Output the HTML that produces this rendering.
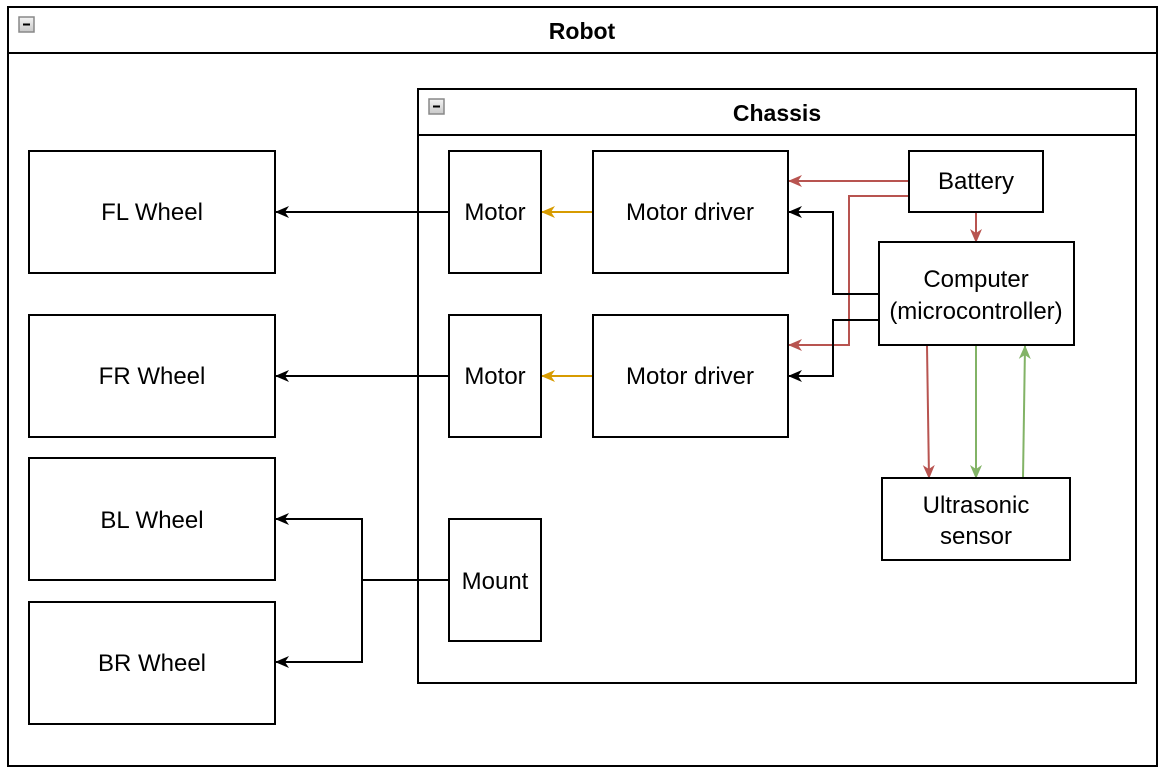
<!DOCTYPE html>
<html><head><meta charset="utf-8"><style>
html,body{margin:0;padding:0;background:#fff;}
svg{display:block;}
text{font-family:"Liberation Sans",sans-serif;font-size:24px;fill:#000;}
</style></head><body>
<svg width="1173" height="783" viewBox="0 0 1173 783" xmlns="http://www.w3.org/2000/svg">
<defs>
<marker id="ak" markerWidth="14" markerHeight="14" refX="13" refY="7" orient="auto" markerUnits="userSpaceOnUse" viewBox="0 0 14 14"><path d="M0,1 L14,7 L0,13 L4,7 Z" fill="#000"/></marker>
<marker id="ar" markerWidth="14" markerHeight="14" refX="13" refY="7" orient="auto" markerUnits="userSpaceOnUse" viewBox="0 0 14 14"><path d="M0,1 L14,7 L0,13 L4,7 Z" fill="#b85450"/></marker>
<marker id="ag" markerWidth="14" markerHeight="14" refX="13" refY="7" orient="auto" markerUnits="userSpaceOnUse" viewBox="0 0 14 14"><path d="M0,1 L14,7 L0,13 L4,7 Z" fill="#82b366"/></marker>
<marker id="ay" markerWidth="14" markerHeight="14" refX="13" refY="7" orient="auto" markerUnits="userSpaceOnUse" viewBox="0 0 14 14"><path d="M0,1 L14,7 L0,13 L4,7 Z" fill="#d79b00"/></marker>
<linearGradient id="bg" x1="0" y1="0" x2="0" y2="1"><stop offset="0" stop-color="#f4f4f4"/><stop offset="1" stop-color="#c8c8c8"/></linearGradient>
</defs>
<g fill="none" stroke="#000" stroke-width="2">
<rect x="8" y="7" width="1149" height="759"/>
<line x1="8" y1="53" x2="1157" y2="53"/>
<rect x="418" y="89" width="718" height="594"/>
<line x1="418" y1="135" x2="1136" y2="135"/>
</g>
<rect x="19" y="17" width="15" height="15" fill="url(#bg)" stroke="#888" stroke-width="1.5"/>
<line x1="23" y1="24.5" x2="30" y2="24.5" stroke="#000" stroke-width="2"/>
<rect x="429" y="99" width="15" height="15" fill="url(#bg)" stroke="#888" stroke-width="1.5"/>
<line x1="433" y1="106.5" x2="440" y2="106.5" stroke="#000" stroke-width="2"/>
<text x="582" y="39" text-anchor="middle" font-weight="bold" style="font-size:23px">Robot</text>
<text x="777" y="121" text-anchor="middle" font-weight="bold" style="font-size:23px">Chassis</text>

<g fill="none" stroke-width="2">
<path d="M449,212 H276" stroke="#000" marker-end="url(#ak)"/>
<path d="M449,376 H276" stroke="#000" marker-end="url(#ak)"/>
<path d="M449,580 H362 V519 H276" stroke="#000" marker-end="url(#ak)"/>
<path d="M362,580 V662 H276" stroke="#000" marker-end="url(#ak)"/>
<path d="M593,212 H542" stroke="#d79b00" marker-end="url(#ay)"/>
<path d="M593,376 H542" stroke="#d79b00" marker-end="url(#ay)"/>
<path d="M909,181 H789" stroke="#b85450" marker-end="url(#ar)"/>
<path d="M909,196 H849 V345 H789" stroke="#b85450" marker-end="url(#ar)"/>
<path d="M976,212 V242" stroke="#b85450" marker-end="url(#ar)"/>
<path d="M879,294 H833 V212 H789" stroke="#000" marker-end="url(#ak)"/>
<path d="M879,320 H833 V376 H789" stroke="#000" marker-end="url(#ak)"/>
<path d="M927,346 L929,478" stroke="#b85450" marker-end="url(#ar)"/>
<path d="M976,346 V478" stroke="#82b366" marker-end="url(#ag)"/>
<path d="M1023,478 L1025,346" stroke="#82b366" marker-end="url(#ag)"/>
</g>

<g fill="#fff" stroke="#000" stroke-width="2">
<rect x="29" y="151" width="246" height="122"/>
<rect x="29" y="315" width="246" height="122"/>
<rect x="29" y="458" width="246" height="122"/>
<rect x="29" y="602" width="246" height="122"/>
<rect x="449" y="151" width="92" height="122"/>
<rect x="449" y="315" width="92" height="122"/>
<rect x="449" y="519" width="92" height="122"/>
<rect x="593" y="151" width="195" height="122"/>
<rect x="593" y="315" width="195" height="122"/>
<rect x="909" y="151" width="134" height="61"/>
<rect x="879" y="242" width="195" height="103"/>
<rect x="882" y="478" width="188" height="82"/>
</g>
<g text-anchor="middle">
<text x="152" y="220">FL Wheel</text>
<text x="152" y="384">FR Wheel</text>
<text x="152" y="528">BL Wheel</text>
<text x="152" y="671">BR Wheel</text>
<text x="495" y="220">Motor</text>
<text x="495" y="384">Motor</text>
<text x="495" y="589">Mount</text>
<text x="690" y="220">Motor driver</text>
<text x="690" y="384">Motor driver</text>
<text x="976" y="189">Battery</text>
<text x="976" y="287">Computer</text>
<text x="976" y="319">(microcontroller)</text>
<text x="976" y="513">Ultrasonic</text>
<text x="976" y="544">sensor</text>
</g>
</svg>
</body></html>
